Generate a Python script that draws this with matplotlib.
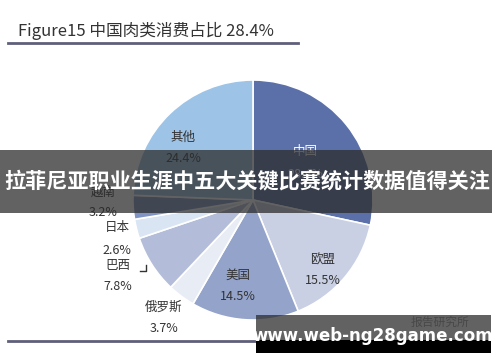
import matplotlib
matplotlib.use("Agg")
import matplotlib.pyplot as plt
from matplotlib.patches import Rectangle

plt.rcParams['font.family'] = ['Noto Sans CJK SC', 'DejaVu Sans']

# ---- data ----
labels = ["中国", "欧盟", "美国", "俄罗斯", "巴西", "日本", "越南", "其他"]
values = [28.4, 15.5, 14.5, 3.7, 7.8, 2.6, 3.2, 24.4]
pct_text = ["28.4%", "15.5%", "14.5%", "3.7%", "7.8%", "2.6%", "3.2%", "24.4%"]
colors = ["#5b70a9", "#c9d0e4", "#94a3ca", "#e8ecf5", "#b3bdd9", "#dae5f4", "#7f93c4", "#9dc3e6"]
title = "Figure15 中国肉类消费占比 28.4%"
banner = "拉菲尼亚职业生涯中五大关键比赛统计数据值得关注"
site = "www.web-ng28game.com"
watermark = "报告研究所"

W, H = 500, 362
fig = plt.figure(figsize=(W / 100, H / 100), dpi=100, facecolor="white")

# pie axes: centre (253,200) px, radius 120 px
cx, cy, r = 253, 200, 120
pax = fig.add_axes([(cx - r) / W, (H - cy - r) / H, 2 * r / W, 2 * r / H])
pax.pie(values, colors=colors, startangle=90, counterclock=False,
        wedgeprops=dict(edgecolor="white", linewidth=1.2))
pax.set_xlim(-1, 1)
pax.set_ylim(-1, 1)
pax.set_aspect("equal")
pax.axis("off")

# overlay axes in pixel coordinates
ov = fig.add_axes([0, 0, 1, 1], zorder=5)
ov.set_xlim(0, W)
ov.set_ylim(H, 0)
ov.axis("off")
ov.patch.set_alpha(0)

# title and rules
ov.text(18, 31, title, fontsize=12, color="#333333", ha="left", va="center")
ov.plot([8, 298], [43, 43], color="#5f5f7a", lw=2)
ov.plot([8, 300], [341, 341], color="#5f5f7a", lw=2)

# slice labels (positions in px)
label_pos = {
    "中国": (305, 152, 175, "white"),
    "欧盟": (323, 260, 280, "#333333"),
    "美国": (238, 275, 296, "#333333"),
    "俄罗斯": (164, 307, 329, "#333333"),
    "巴西": (118, 265, 287, "#333333"),
    "日本": (117, 228, 250, "#333333"),
    "越南": (103, 192, 213, "#333333"),
    "其他": (183, 137, 158, "#333333"),
}
for lab, pt in zip(labels, pct_text):
    x, y1, y2, c = label_pos[lab]
    ov.text(x, y1, lab, fontsize=9, color=c, ha="center", va="center", zorder=2)
    ov.text(x, y2, pt, fontsize=9, color=c, ha="center", va="center", zorder=2)
ov.plot([140, 146, 146], [271, 271, 265], color="#333333", lw=1, zorder=2)

# banner
ov.add_patch(Rectangle((0, 150), 492, 63, facecolor="#2b2b2b", alpha=0.74,
                       edgecolor="none", zorder=4))
ov.text(247, 182, banner, fontsize=15.2, fontweight="bold", color="white",
        ha="center", va="center", zorder=6)

# watermark box
ov.text(440, 322, watermark, fontsize=8.5, color="#9a9a9a", ha="center", va="center", zorder=2)
ov.add_patch(Rectangle((256, 315), 235, 25, facecolor="#2b2b2b", alpha=0.74,
                       edgecolor="none", zorder=4))
ov.add_patch(Rectangle((256, 340), 235, 13, facecolor="black", edgecolor="none", zorder=4))
ov.text(373, 336, site, fontsize=12, fontweight="bold", color="white",
        ha="center", va="center", family="DejaVu Sans", zorder=6)

fig.savefig("out.png", dpi=100, facecolor="white")
